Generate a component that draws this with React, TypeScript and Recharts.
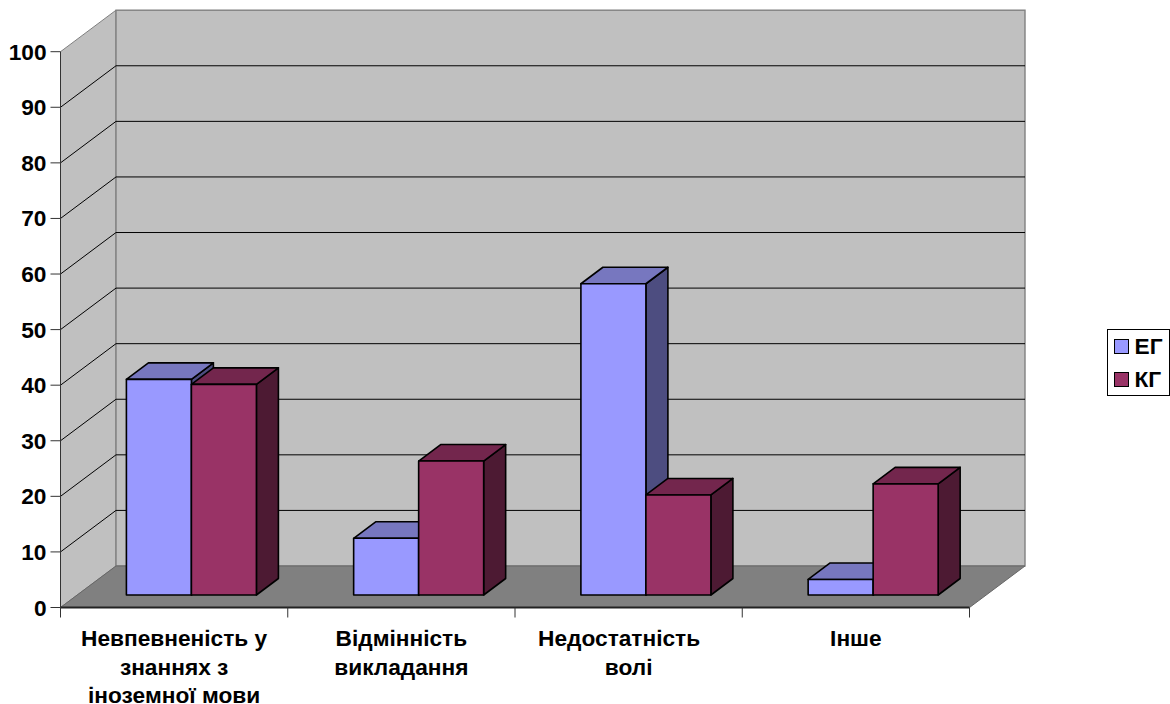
import React from "react";
import { BarChart, Bar, XAxis, YAxis, CartesianGrid, ReferenceArea, Legend } from "recharts";

// Chart data
const categories = [
  "Невпевненість у\nзнаннях з\nіноземної мови",
  "Відмінність\nвикладання",
  "Недостатність\nволі",
  "Інше",
];
const egValues = [38.8, 10.2, 56, 2.8];
const kgValues = [37.9, 24.1, 18, 20];
const yTicks = [0, 10, 20, 30, 40, 50, 60, 70, 80, 90, 100];
const rows = categories.map((name, i) => ({ name, eg: egValues[i], kg: kgValues[i] }));

// Layout of the pseudo-3D box
const CHART_W = 1170;
const CHART_H = 704;
const TOP = 51.7;
const BOTTOM = 607.5;
const LEFT = 60.5;
const RIGHT = 969.5;
const DEPTH_X = 55.5;
const DEPTH_Y = 41.5;
const FONT = "'Liberation Sans', Arial, sans-serif";
const FONT_SIZE = 22.7;
const LEGEND_W = 63;
const AXIS_STROKE = "#333";

// Label lines that sit off the centre of their category
const LINE_NUDGE: Record<string, number> = { "Недостатність": -9.5 };

// Bars stand partway into the floor and have their own shallower depth
const BAR_W = 65;
const BAR_SHIFT_X = 16.9;
const BAR_SHIFT_Y = 12.5;
const BAR_DEPTH_X = 22;
const BAR_DEPTH_Y = 16.5;

const SHADES: Record<string, { top: string; side: string }> = {
  "#9999FF": { top: "#7777BF", side: "#4D4D80" },
  "#993366": { top: "#73264D", side: "#4D1A33" },
};

function Box3D(props: any) {
  const { x, y, width, height, fill } = props;
  const fx = x + BAR_SHIFT_X;
  const fy = y - BAR_SHIFT_Y;
  const dx = BAR_DEPTH_X;
  const dy = BAR_DEPTH_Y;
  const shade = SHADES[fill];
  return (
    <g stroke="#000" strokeWidth={1.6} strokeLinejoin="round">
      <path
        d={`M${fx + width},${fy} l${dx},${-dy} v${height} l${-dx},${dy} Z`}
        fill={shade.side}
      />
      <path
        d={`M${fx},${fy} l${dx},${-dy} h${width} l${-dx},${dy} Z`}
        fill={shade.top}
      />
      <rect x={fx} y={fy} width={width} height={height} fill={fill} />
    </g>
  );
}

// Back wall, side wall and floor of the box
function Room(props: any) {
  const { x, y, width, height } = props;
  const r = x + width;
  const b = y + height;
  return (
    <g>
      <path
        d={`M${x},${y} l${DEPTH_X},${-DEPTH_Y} V${b - DEPTH_Y} L${x},${b} Z`}
        fill="#C0C0C0"
        stroke="#808080"
        strokeWidth={1}
      />
      <rect
        x={x + DEPTH_X}
        y={y - DEPTH_Y}
        width={width}
        height={height}
        fill="#C0C0C0"
        stroke="#808080"
        strokeWidth={1.4}
      />
      <path
        d={`M${x},${b} l${DEPTH_X},${-DEPTH_Y} H${r + DEPTH_X} L${r},${b} Z`}
        fill="#808080"
        stroke="#666"
        strokeWidth={1}
      />
    </g>
  );
}

// Gridlines run up the side wall and then across the back wall
function GridLine(props: any) {
  const { x1, x2, y1 } = props;
  if (Math.abs(y1 - TOP) < 1 || Math.abs(y1 - BOTTOM) < 1) return <g />;
  return (
    <path
      d={`M${x1},${y1} l${DEPTH_X},${-DEPTH_Y} H${x2 + DEPTH_X}`}
      fill="none"
      stroke="#000"
      strokeWidth={1}
    />
  );
}

function CategoryTick(props: any) {
  const { x, payload, index, width, visibleTicksCount } = props;
  const band = width / visibleTicksCount;
  const lines = String(payload.value).split("\n");
  const axisY = BOTTOM;
  return (
    <g>
      <line x1={x - band / 2} x2={x - band / 2} y1={axisY} y2={axisY + 10} stroke={AXIS_STROKE} />
      {index === visibleTicksCount - 1 && (
        <line x1={x + band / 2} x2={x + band / 2} y1={axisY} y2={axisY + 10} stroke={AXIS_STROKE} />
      )}
      <text
        textAnchor="middle"
        fontFamily={FONT}
        fontWeight="bold"
        fontSize={FONT_SIZE}
        fill="#000"
      >
        {lines.map((line, i) => (
          <tspan key={i} x={x + (LINE_NUDGE[line] ?? 0)} y={axisY + 38.5 + i * 28.5}>
            {line}
          </tspan>
        ))}
      </text>
    </g>
  );
}

function LegendBox(props: any) {
  const items = props.payload ?? [];
  return (
    <div
      style={{
        boxSizing: "border-box",
        width: LEGEND_W,
        height: 67,
        border: "1px solid #000",
        background: "#fff",
        fontFamily: FONT,
        fontWeight: "bold",
        fontSize: FONT_SIZE,
        color: "#000",
        position: "relative",
      }}
    >
      {items.map((it: any, i: number) => (
        <div
          key={it.value}
          style={{ position: "absolute", left: 6, top: 9 + i * 33, display: "flex", alignItems: "center", height: 15 }}
        >
          <span
            style={{
              display: "inline-block",
              boxSizing: "border-box",
              width: 15,
              height: 15,
              background: it.color,
              border: "1.5px solid #000",
              marginRight: 6,
            }}
          />
          <span>{it.value}</span>
        </div>
      ))}
    </div>
  );
}

export default function App() {
  return (
    <div style={{ position: "absolute", left: 0, top: 0, width: CHART_W, height: CHART_H, overflow: "hidden", background: "#fff" }}>
      <BarChart
        width={CHART_W}
        height={CHART_H}
        data={rows}
        barSize={BAR_W}
        barGap={0}
        margin={{ top: TOP, right: CHART_W - RIGHT - LEGEND_W, bottom: 0, left: 0 }}
      >
        <ReferenceArea {...({ zIndex: -200 } as any)} y1={0} y2={100} ifOverflow="visible" shape={Room} />
        <CartesianGrid vertical={false} horizontal={GridLine as any} />
        <XAxis
          dataKey="name"
          height={CHART_H - BOTTOM}
          tickLine={false}
          axisLine={{ stroke: "#222", strokeWidth: 2 }}
          interval={0}
          tick={CategoryTick}
        />
        <YAxis
          width={LEFT}
          domain={[0, 100]}
          ticks={yTicks}
          interval={0}
          tickSize={10}
          tickMargin={4}
          axisLine={{ stroke: AXIS_STROKE, strokeWidth: 1 }}
          tickLine={{ stroke: AXIS_STROKE }}
          tick={{ fontFamily: FONT, fontWeight: "bold", fontSize: FONT_SIZE, fill: "#000" }}
        />
        <Legend
          layout="vertical"
          align="right"
          verticalAlign="middle"
          content={LegendBox}
          wrapperStyle={{ position: "absolute", left: 1106.5, top: 329, width: LEGEND_W, height: 67 }}
        />
        <Bar dataKey="eg" name="ЕГ" fill="#9999FF" shape={Box3D} isAnimationActive={false} />
        <Bar dataKey="kg" name="КГ" fill="#993366" shape={Box3D} isAnimationActive={false} />
      </BarChart>
    </div>
  );
}
